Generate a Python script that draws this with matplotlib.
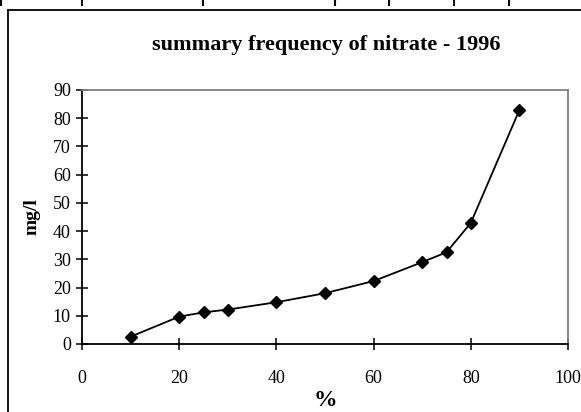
import matplotlib
matplotlib.use('Agg')
import matplotlib.pyplot as plt
from matplotlib.lines import Line2D

# nitrate summary frequency, 1996
percent = [10, 20, 25, 30, 40, 50, 60, 70, 75, 80, 90]
nitrate_mgl = [2.6, 9.7, 11.2, 12.2, 14.8, 18.0, 22.3, 29.0, 32.5, 42.9, 82.9]
x_ticks = [0, 20, 40, 60, 80, 100]
y_ticks = [0, 10, 20, 30, 40, 50, 60, 70, 80, 90]

plt.rcParams['font.family'] = ['Liberation Serif', 'DejaVu Serif']

W, H = 581, 412
fig = plt.figure(figsize=(W / 100, H / 100), dpi=100)
ax = fig.add_axes([82 / W, 1 - 344 / H, (568 - 82) / W, (344 - 90) / H])

ax.plot(percent, nitrate_mgl, color='black', linewidth=1.3,
        marker='D', markersize=6.5, markerfacecolor='black', markeredgecolor='black')

ax.set_xlim(0, 100)
ax.set_ylim(0, 90)
ax.set_xticks(x_ticks)
ax.set_yticks(y_ticks)
ax.tick_params(axis='both', direction='inout', length=8, width=1.1, labelsize=13)
ax.tick_params(axis='y', pad=4)
ax.tick_params(axis='x', pad=15)

for side in ['left', 'bottom']:
    ax.spines[side].set_color('black')
    ax.spines[side].set_linewidth(1.3)
for side in ['top', 'right']:
    ax.spines[side].set_color('#808080')
    ax.spines[side].set_linewidth(1.3)

ax.set_xlabel('%', fontsize=17, fontweight='bold', labelpad=2)
ax.set_ylabel('mg/l', fontsize=14, fontweight='bold', labelpad=9)
fig.text(326 / W, 1 - 45 / H, 'summary frequency of nitrate - 1996',
         ha='center', va='center', fontsize=16, fontweight='bold')

# chart frame and sheet column marks
fig.add_artist(Line2D([8 / W, 8 / W], [0, 1 - 10 / H], color='black', linewidth=1.3))
fig.add_artist(Line2D([8 / W, 1], [1 - 10 / H, 1 - 10 / H], color='black', linewidth=1.3))
for cx in [1, 82, 203, 335, 389, 454, 509]:
    fig.add_artist(Line2D([cx / W, cx / W], [1, 1 - 5 / H], color='black', linewidth=1.5))

fig.savefig('out.png', dpi=100)
